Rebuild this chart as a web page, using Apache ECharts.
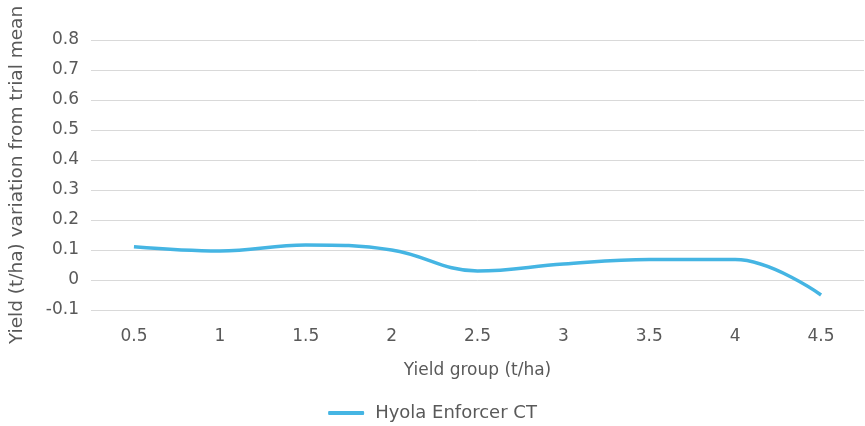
<!DOCTYPE html>
<html>
<head>
<meta charset="utf-8">
<script src="https://cdn.jsdelivr.net/npm/echarts@6/dist/echarts.min.js"></script>
<style>
  html, body { margin: 0; padding: 0; background: #fff; }
  #chart { width: 865px; height: 426px; }
</style>
</head>
<body>
<div id="chart"></div>
<script>
// 数据
const yieldGroups = ['0.5', '1', '1.5', '2', '2.5', '3', '3.5', '4', '4.5'];
const enforcerValues = [0.111, 0.097, 0.117, 0.100, 0.030, 0.053, 0.068, 0.068, -0.050];

const textColor = '#595959';
const fontFamily = '"DejaVu Sans", sans-serif';

var chart = echarts.init(document.getElementById('chart'));

chart.setOption({
    backgroundColor: '#fff',
    animation: false,
    grid: { left: 91, right: 1, top: 40, bottom: 116, containLabel: false, outerBoundsMode: 'none' },
    legend: {
        top: 399,
        left: 'center',
        itemWidth: 36,
        itemHeight: 4,
        icon: 'roundRect',
        textStyle: { color: textColor, fontSize: 18, fontFamily: fontFamily, padding: [0, 0, 0, 6] },
        data: ['Hyola Enforcer CT']
    },
    xAxis: {
        type: 'category',
        data: yieldGroups,
        boundaryGap: true,
        name: 'Yield group (t/ha)',
        nameLocation: 'middle',
        nameGap: 52,
        nameTextStyle: { color: textColor, fontSize: 17, fontFamily: fontFamily },
        axisLine: { show: false },
        axisTick: { show: false },
        axisLabel: { color: textColor, fontSize: 17, fontFamily: fontFamily, margin: 18 }
    },
    yAxis: {
        type: 'value',
        min: -0.1,
        max: 0.8,
        interval: 0.1,
        name: 'Yield (t/ha) variation from trial mean',
        nameLocation: 'middle',
        nameGap: 64,
        nameTextStyle: { color: textColor, fontSize: 18.5, fontFamily: fontFamily },
        axisLine: { show: false },
        axisTick: { show: false },
        axisLabel: {
            color: textColor, fontSize: 17, fontFamily: fontFamily, margin: 12,
            formatter: v => String(Math.round(v * 10) / 10)
        },
        splitLine: { lineStyle: { color: '#d9d9d9', width: 1 } }
    },
    series: [{
        name: 'Hyola Enforcer CT',
        type: 'line',
        data: enforcerValues,
        smooth: 0.4,
        symbol: 'none',
        lineStyle: { color: '#45b5e3', width: 3.5 },
        itemStyle: { color: '#45b5e3' }
    }]
});
</script>
</body>
</html>
